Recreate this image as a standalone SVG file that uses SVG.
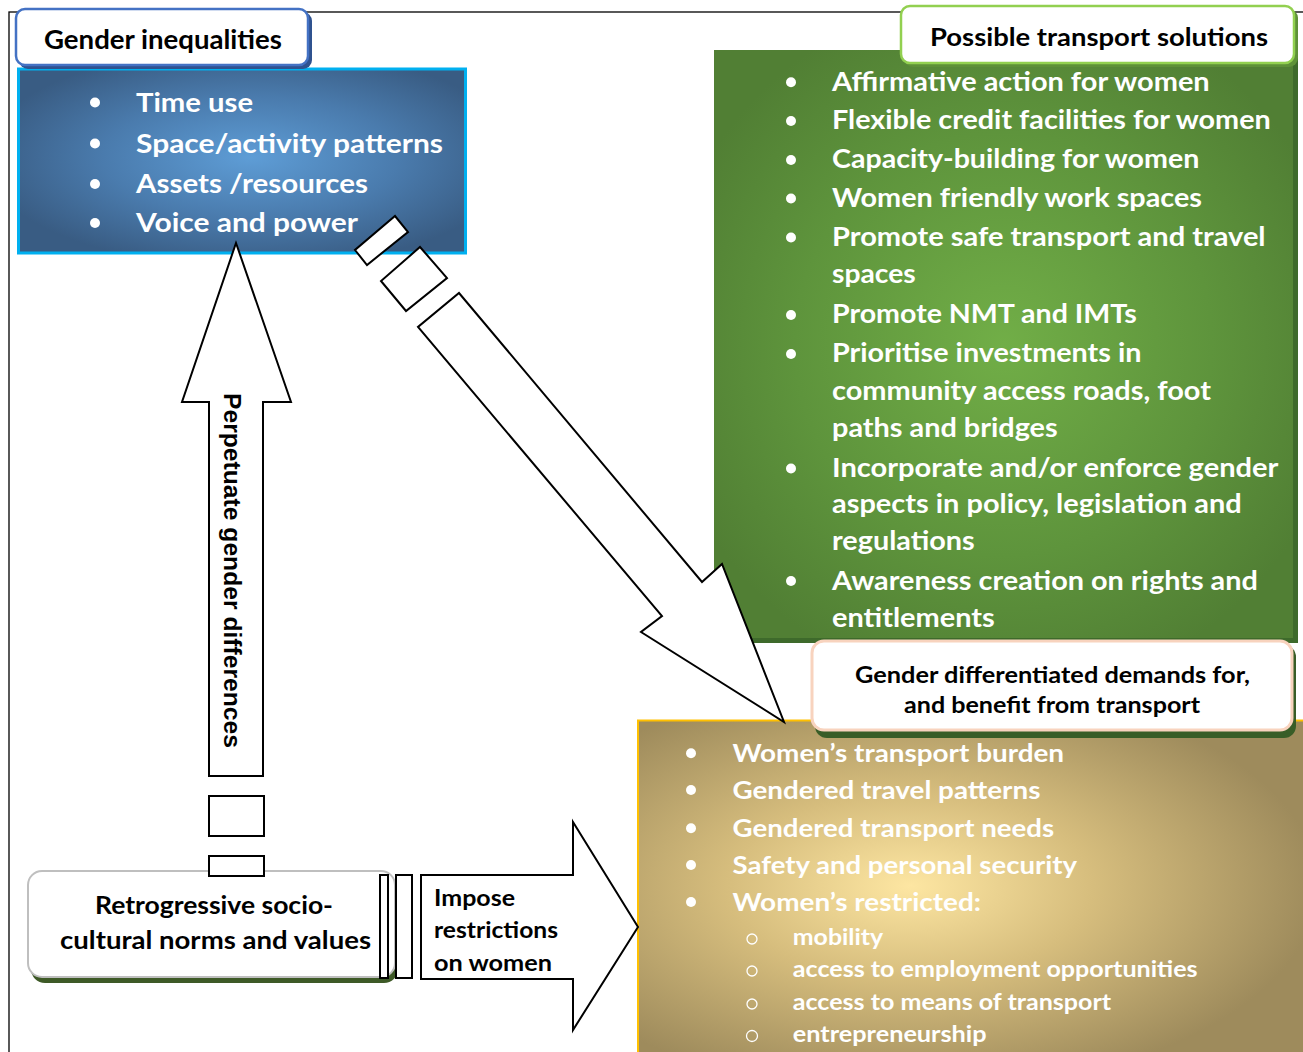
<svg xmlns="http://www.w3.org/2000/svg" width="1303" height="1052" viewBox="0 0 1303 1052">
<defs>
<radialGradient id="gBlue" cx="0.52" cy="0.48" r="0.6">
<stop offset="0" stop-color="#5E9DD6"/>
<stop offset="0.55" stop-color="#4A7BAD"/>
<stop offset="1" stop-color="#395C83"/>
</radialGradient>
<radialGradient id="gGreen" cx="0.5" cy="0.5" r="0.6">
<stop offset="0" stop-color="#71AE47"/>
<stop offset="0.6" stop-color="#5E943C"/>
<stop offset="1" stop-color="#517F34"/>
</radialGradient>
<radialGradient id="gGold" cx="0.4" cy="0.48" r="0.6">
<stop offset="0" stop-color="#FDE6A2"/>
<stop offset="0.45" stop-color="#D6BD7D"/>
<stop offset="1" stop-color="#9E8B5C"/>
</radialGradient>
<style>
.w{font-family:Lato,"Liberation Sans",sans-serif;font-weight:bold;fill:#FFFFFF}
.k{font-family:Lato,"Liberation Sans",sans-serif;font-weight:bold;fill:#000000}
.arr{fill:#FFFFFF;stroke:#000000;stroke-width:2;stroke-linejoin:miter}
.dot{fill:#FFFFFF}
.ring{fill:none;stroke:#FFFFFF;stroke-width:1.3}
</style>
</defs>
<rect x="0" y="0" width="1303" height="1052" fill="#FFFFFF"/>
<rect id="frame" x="9" y="12" width="1320" height="1100" fill="none" stroke="#000000" stroke-width="1.3"/>

<g id="gender-inequalities">
<rect x="18.5" y="69" width="447" height="184" fill="url(#gBlue)" stroke="#00B0F0" stroke-width="3"/>
<circle class="dot" cx="95" cy="102.5" r="5"/>
<circle class="dot" cx="95" cy="143.5" r="5"/>
<circle class="dot" cx="95" cy="184" r="5"/>
<circle class="dot" cx="95" cy="223" r="5"/>
<text class="w" x="136" y="111.5" font-size="26.5" textLength="117" lengthAdjust="spacingAndGlyphs">Time use</text>
<text class="w" x="136" y="152.5" font-size="26.5" textLength="307" lengthAdjust="spacingAndGlyphs">Space/activity patterns</text>
<text class="w" x="136" y="193" font-size="26.5" textLength="232" lengthAdjust="spacingAndGlyphs">Assets /resources</text>
<text class="w" x="136" y="232" font-size="26.5" textLength="222" lengthAdjust="spacingAndGlyphs">Voice and power</text>
<rect x="19" y="12" width="293" height="57" rx="9" fill="#2F528F"/>
<rect x="16" y="9" width="292" height="56" rx="9" fill="#FFFFFF" stroke="#4472C4" stroke-width="2.5"/>
<text class="k" x="44" y="49" font-size="26" textLength="238" lengthAdjust="spacingAndGlyphs">Gender inequalities</text>
</g>

<g id="transport-solutions">
<rect x="718" y="54" width="580" height="589" fill="#3E6A2B"/>
<rect x="714" y="50" width="579" height="588" fill="url(#gGreen)"/>
<g>
<circle class="dot" cx="791" cy="82.3" r="5"/>
<circle class="dot" cx="791" cy="121" r="5"/>
<circle class="dot" cx="791" cy="160" r="5"/>
<circle class="dot" cx="791" cy="198.5" r="5"/>
<circle class="dot" cx="791" cy="237.5" r="5"/>
<circle class="dot" cx="791" cy="315" r="5"/>
<circle class="dot" cx="791" cy="354" r="5"/>
<circle class="dot" cx="791" cy="468.5" r="5"/>
<circle class="dot" cx="791" cy="581" r="5"/>
</g>
<text class="w" x="832" y="90.7" font-size="26.5" textLength="377.7" lengthAdjust="spacingAndGlyphs">Affirmative action for women</text>
<text class="w" x="832" y="129.3" font-size="26.5" textLength="438.7" lengthAdjust="spacingAndGlyphs">Flexible credit facilities for women</text>
<text class="w" x="832" y="168" font-size="26.5" textLength="367.3" lengthAdjust="spacingAndGlyphs">Capacity-building for women</text>
<text class="w" x="832" y="206.7" font-size="26.5" textLength="370" lengthAdjust="spacingAndGlyphs">Women friendly work spaces</text>
<text class="w" x="832" y="245.7" font-size="26.5" textLength="433.6" lengthAdjust="spacingAndGlyphs">Promote safe transport and travel</text>
<text class="w" x="832" y="283" font-size="26.5" textLength="83.7" lengthAdjust="spacingAndGlyphs">spaces</text>
<text class="w" x="832" y="323" font-size="26.5" textLength="304.8" lengthAdjust="spacingAndGlyphs">Promote NMT and IMTs</text>
<text class="w" x="832" y="362" font-size="26.5" textLength="309.4" lengthAdjust="spacingAndGlyphs">Prioritise investments in</text>
<text class="w" x="832" y="400" font-size="26.5" textLength="378.9" lengthAdjust="spacingAndGlyphs">community access roads, foot</text>
<text class="w" x="832" y="436.5" font-size="26.5" textLength="225.7" lengthAdjust="spacingAndGlyphs">paths and bridges</text>
<text class="w" x="832" y="476.7" font-size="26.5" textLength="446.4" lengthAdjust="spacingAndGlyphs">Incorporate and/or enforce gender</text>
<text class="w" x="832" y="513" font-size="26.5" textLength="409.7" lengthAdjust="spacingAndGlyphs">aspects in policy, legislation and</text>
<text class="w" x="832" y="550" font-size="26.5" textLength="142.7" lengthAdjust="spacingAndGlyphs">regulations</text>
<text class="w" x="832" y="589.5" font-size="26.5" textLength="425.9" lengthAdjust="spacingAndGlyphs">Awareness creation on rights and</text>
<text class="w" x="832" y="626.5" font-size="26.5" textLength="162.8" lengthAdjust="spacingAndGlyphs">entitlements</text>
<rect x="904" y="9" width="394" height="58" rx="9" fill="#5E9138"/>
<rect x="901" y="6" width="393" height="57" rx="9" fill="#FFFFFF" stroke="#92D050" stroke-width="2.5"/>
<text class="k" x="930" y="45.5" font-size="24" textLength="338" lengthAdjust="spacingAndGlyphs">Possible transport solutions</text>
</g>

<g id="gender-demands">
<rect x="638" y="720.5" width="680" height="345" fill="url(#gGold)" stroke="#FFC000" stroke-width="2"/>
<circle class="dot" cx="691" cy="753.3" r="5"/>
<circle class="dot" cx="691" cy="790" r="5"/>
<circle class="dot" cx="691" cy="828.3" r="5"/>
<circle class="dot" cx="691" cy="865" r="5"/>
<circle class="dot" cx="691" cy="902" r="5"/>
<text class="w" x="732.5" y="761.7" font-size="25" textLength="331.6" lengthAdjust="spacingAndGlyphs">Women’s transport burden</text>
<text class="w" x="732.5" y="798.5" font-size="25" textLength="307.9" lengthAdjust="spacingAndGlyphs">Gendered travel patterns</text>
<text class="w" x="732.5" y="836.7" font-size="25" textLength="321.7" lengthAdjust="spacingAndGlyphs">Gendered transport needs</text>
<text class="w" x="732.5" y="873.5" font-size="25" textLength="344.5" lengthAdjust="spacingAndGlyphs">Safety and personal security</text>
<text class="w" x="732.5" y="910.5" font-size="25" textLength="248.5" lengthAdjust="spacingAndGlyphs">Women’s restricted:</text>
<circle class="ring" cx="752" cy="939" r="5"/>
<circle class="ring" cx="752" cy="971" r="5"/>
<circle class="ring" cx="752" cy="1004" r="5"/>
<circle class="ring" cx="752" cy="1036" r="5.5"/>
<text class="w" x="792.8" y="945" font-size="22.5" textLength="90.4" lengthAdjust="spacingAndGlyphs">mobility</text>
<text class="w" x="792.8" y="977" font-size="22.5" textLength="404.8" lengthAdjust="spacingAndGlyphs">access to employment opportunities</text>
<text class="w" x="792.8" y="1010" font-size="22.5" textLength="318.3" lengthAdjust="spacingAndGlyphs">access to means of transport</text>
<text class="w" x="792.8" y="1042" font-size="22.5" textLength="193.8" lengthAdjust="spacingAndGlyphs">entrepreneurship</text>
<rect x="815" y="645" width="481" height="93" rx="12" fill="#385D27"/>
<rect x="812" y="641" width="480" height="89" rx="12" fill="#FFFFFF" stroke="#F8D3BE" stroke-width="3"/>
<text class="k" x="855" y="683.3" font-size="23.5" textLength="395" lengthAdjust="spacingAndGlyphs">Gender differentiated demands for,</text>
<text class="k" x="904" y="713" font-size="23.5" textLength="296" lengthAdjust="spacingAndGlyphs">and benefit from transport</text>
</g>

<g id="retrogressive-norms">
<rect x="31" y="875" width="367" height="108" rx="14" fill="#3E5A27"/>
<rect x="28" y="871" width="367" height="106" rx="14" fill="#FFFFFF" stroke="#BFBFBF" stroke-width="2"/>
<text class="k" x="95" y="914" font-size="25" textLength="238" lengthAdjust="spacingAndGlyphs">Retrogressive socio-</text>
<text class="k" x="60" y="949" font-size="25" textLength="311" lengthAdjust="spacingAndGlyphs">cultural norms and values</text>
</g>

<g id="connectors">
<g id="arrow-perpetuate">
<polygon class="arr" points="236,243 291,402 263,402 263,776 209,776 209,402 182,402"/>
<rect class="arr" x="209" y="796" width="55" height="40"/>
<rect class="arr" x="209" y="856" width="55" height="20"/>
<text transform="translate(224,393) rotate(90)" font-family="'Liberation Sans',Arial,sans-serif" font-weight="bold" font-size="24.5" fill="#000000" textLength="355" lengthAdjust="spacingAndGlyphs">Perpetuate gender differences</text>
</g>
<g id="arrow-impose">
<rect class="arr" x="380" y="875" width="8" height="103"/>
<rect class="arr" x="396" y="875" width="16" height="103"/>
<polygon class="arr" points="421,875 573,875 573,822 638,927 573,1030 573,979 421,979"/>
<text class="k" x="434" y="905.5" font-size="22" textLength="81" lengthAdjust="spacingAndGlyphs">Impose</text>
<text class="k" x="434" y="938" font-size="22" textLength="124" lengthAdjust="spacingAndGlyphs">restrictions</text>
<text class="k" x="434" y="970.5" font-size="22" textLength="118" lengthAdjust="spacingAndGlyphs">on women</text>
</g>
<g id="arrow-diagonal">
<polygon class="arr" points="395,216 408,232 367,265 355,250"/>
<polygon class="arr" points="420,247 447,278 406,311 381,281"/>
<polygon class="arr" points="459,293 702,582 722,564 784,722 641,632 662,616 418,327"/>
</g>
</g>
</svg>
